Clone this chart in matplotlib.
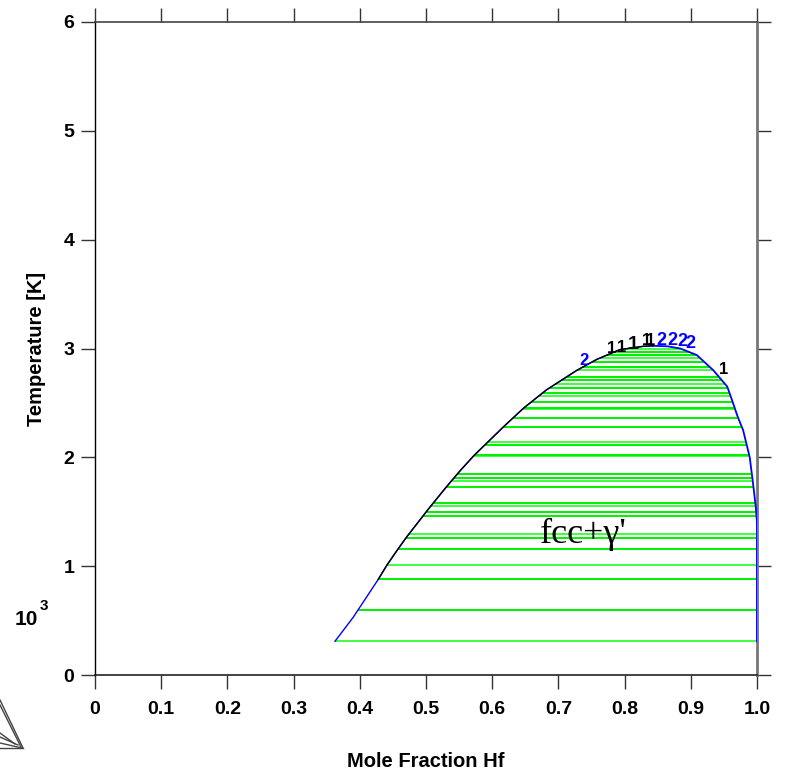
"""Hf mole fraction vs temperature: fcc + gamma' miscibility gap with tie lines."""

import matplotlib.pyplot as plt
from matplotlib.lines import Line2D
from matplotlib.patches import Polygon

# phase boundary (x = mole fraction Hf, T in 10^3 K)
LEFT_X = [0.3625, 0.390, 0.428, 0.441, 0.458, 0.471, 0.503, 0.531, 0.552,
          0.573, 0.617, 0.647, 0.682, 0.728, 0.758, 0.793, 0.828, 0.843]
LEFT_T = [0.31, 0.53, 0.88, 1.01, 1.16, 1.27, 1.52, 1.73, 1.88,
          2.02, 2.28, 2.45, 2.62, 2.80, 2.90, 2.99, 3.02, 3.025]
RIGHT_X = [0.843, 0.865, 0.884, 0.909, 0.934, 0.955, 0.962, 0.971, 0.979,
           0.989, 0.994, 0.998, 1.000, 1.000]
RIGHT_T = [3.025, 3.02, 3.00, 2.94, 2.80, 2.65, 2.53, 2.37, 2.25,
           2.00, 1.76, 1.55, 1.40, 0.31]

# tie-line temperatures
TIE_T = [0.315, 0.60, 0.88, 1.01, 1.16, 1.26, 1.30, 1.46, 1.50, 1.55, 1.58,
         1.73, 1.78, 1.81, 1.85, 2.01, 2.02, 2.11, 2.14, 2.28, 2.36, 2.44,
         2.45, 2.51, 2.56, 2.59, 2.64, 2.67, 2.71, 2.74, 2.80, 2.83, 2.88,
         2.91, 2.94, 2.97, 3.00]

# curve labels: (x, T, text, colour, size)
CURVE_LABELS = [
    (0.739, 2.89, "2", "#0000ff", 12),
    (0.781, 3.00, "1", "black", 12),
    (0.796, 3.01, "1", "black", 12),
    (0.813, 3.04, "1", "black", 14),
    (0.833, 3.07, "1", "black", 12),
    (0.840, 3.07, "1", "black", 12),
    (0.856, 3.07, "2", "#0000ff", 13),
    (0.872, 3.07, "2", "#0000ff", 13),
    (0.887, 3.06, "2", "#0000ff", 13),
    (0.899, 3.05, "2", "#0000ff", 13),
    (0.949, 2.81, "1", "black", 12),
]

X_TICKS = [0, 0.1, 0.2, 0.3, 0.4, 0.5, 0.6, 0.7, 0.8, 0.9, 1.0]
X_TICK_LABELS = ["0", "0.1", "0.2", "0.3", "0.4", "0.5", "0.6", "0.7", "0.8", "0.9", "1.0"]
Y_TICKS = [0, 1, 2, 3, 4, 5, 6]

# small ternary icon at lower-left corner, figure pixels (x, y from top)
ICON_SEGMENTS = [
    ((0, 700), (23, 748)),
    ((0, 705), (21, 747)),
    ((0, 748), (23, 748)),
    ((0, 743), (22, 748)),
    ((0, 737), (18, 745)),
    ((0, 733), (15, 744)),
]

W, H = 788, 778
BOLD = {"family": "Liberation Sans", "weight": "bold"}

fig = plt.figure(figsize=(W / 100, H / 100), dpi=100)
ax = fig.add_axes([95 / W, 1 - 675 / H, 662 / W, 653 / H])

# boundary polygon used to clip the tie lines
dome = list(zip(LEFT_X, LEFT_T)) + list(zip(RIGHT_X[1:], RIGHT_T[1:]))
clip_poly = Polygon(dome + [(1.0, 0.25), (0.3625, 0.25)], closed=True,
                    transform=ax.transData, facecolor="none", edgecolor="none")
ax.add_patch(clip_poly)

for i, t in enumerate(TIE_T):
    col = "#00f000" if i % 3 else "#40ff40"
    ln, = ax.plot([0.0, 1.0], [t, t], color=col, lw=1.4, zorder=2)
    ln.set_clip_path(clip_poly)

ax.plot(LEFT_X, LEFT_T, color="#0000ff", lw=1.0, zorder=3)
ax.plot(RIGHT_X, RIGHT_T, color="#0000ff", lw=1.3, zorder=3)
ax.plot(LEFT_X[2:], LEFT_T[2:], color="black", lw=1.0, zorder=4)

for x, t, s, c, fs in CURVE_LABELS:
    ax.text(x, t, s, color=c, fontsize=fs, ha="center", va="center", zorder=5, **BOLD)

ax.text(0.737, 1.21, "fcc+\u03b3'", fontsize=26, family="Liberation Serif",
        ha="center", va="baseline", zorder=5)

ax.set_xlim(0, 1.0)
ax.set_ylim(0, 6)
ax.set_xticks(X_TICKS)
ax.set_xticklabels(X_TICK_LABELS)
ax.set_yticks(Y_TICKS)
for lab in ax.get_xticklabels() + ax.get_yticklabels():
    lab.set_fontsize(14)
    lab.set_fontfamily("Liberation Sans")
    lab.set_fontweight("bold")

ax.tick_params(axis="both", direction="out", length=10, width=1.0, color="#333333")
ax.tick_params(axis="x", top=True, pad=9)
ax.tick_params(axis="y", right=True, pad=5, labelright=False)
for side, col, lw in [("left", "black", 1.0), ("bottom", "#222222", 1.2),
                      ("top", "#444444", 1.2), ("right", "#777777", 2.0)]:
    ax.spines[side].set_color(col)
    ax.spines[side].set_linewidth(lw)

ax.set_xlabel("Mole Fraction Hf", fontsize=14.5, va="center", **BOLD)
ax.set_ylabel("Temperature [K]", fontsize=14.5, **BOLD)
ax.xaxis.set_label_coords(0.5, -0.133)
ax.yaxis.set_label_coords(-0.074, 0.5)

fig.text(15 / W, 1 - 629 / H, "10", fontsize=15, ha="left", va="bottom", **BOLD)
fig.text(40 / W, 1 - 613 / H, "3", fontsize=11, ha="left", va="bottom", **BOLD)

for (x0, y0), (x1, y1) in ICON_SEGMENTS:
    fig.add_artist(Line2D([x0 / W, x1 / W], [1 - y0 / H, 1 - y1 / H],
                          transform=fig.transFigure, color="#444444", lw=1.0))

fig.savefig("out.png", dpi=100)
